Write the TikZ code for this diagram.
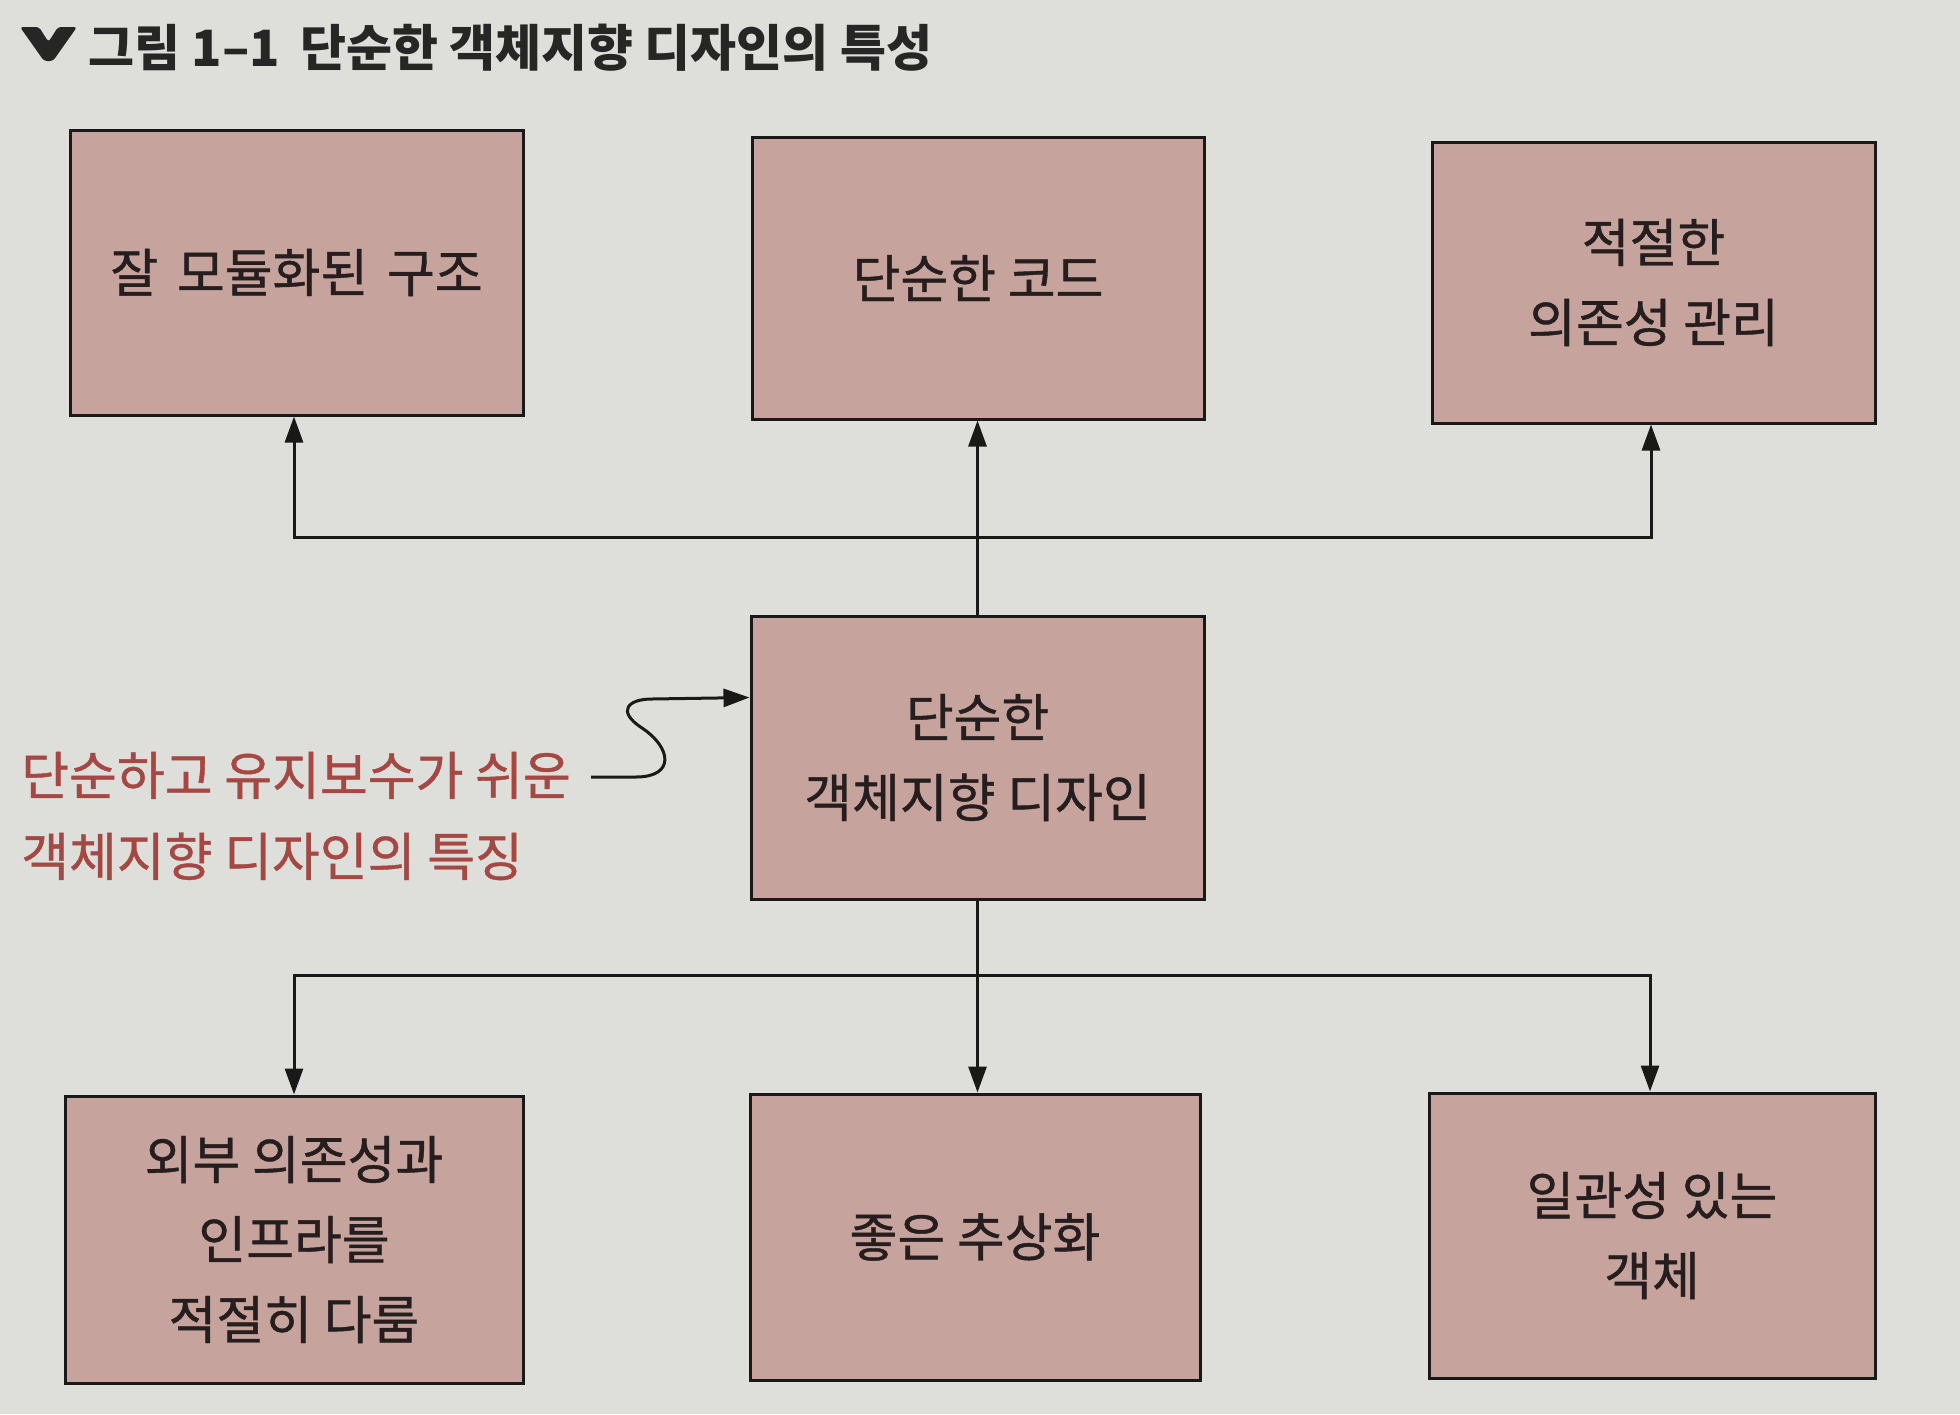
\documentclass[tikz,border=0pt]{standalone}
\usepackage{fontspec}
\setmainfont{Noto Sans CJK KR}[FakeBold=0.8]
\newfontfamily\titlefont{Noto Sans CJK KR}
\usetikzlibrary{arrows.meta,calc}
\definecolor{bgc}{RGB}{222,223,218}
\definecolor{boxc}{RGB}{198,163,157}
\definecolor{txtc}{RGB}{38,30,30}
\definecolor{redc}{RGB}{165,72,68}
\begin{document}
\begin{tikzpicture}[x=1pt,y=-1pt,
  box/.style={draw=black!90,line width=3pt,fill=boxc,text=txtc,align=center,
    inner sep=0pt,font=\fontsize{52}{80}\selectfont},
  conn/.style={line width=3pt,draw=black!90},
  arr/.style={conn,-{Triangle[length=26pt,width=18pt]}}]
\fill[bgc] (0,0) rectangle (1960,1414);
\useasboundingbox (0,0) rectangle (1960,1414);
% title
\fill[black!85,rounded corners=3pt] (20,27) -- (39,27) -- (48.5,42) -- (58,27) -- (77,27) -- (53,61) -- (44,61) -- cycle;
\node[anchor=west,text=black!85,font=\fontsize{50}{55}\titlefont\bfseries,inner sep=0pt] (title) at (88,48) {그림 1–1\hspace{20pt}단순한 객체지향 디자인의 특성};
% boxes
\node[box,minimum width=453,minimum height=285] (t1) at (296.5,272.5) {잘\hspace{0.36em}모듈화된\hspace{0.36em}구조};
\node[box,minimum width=452,minimum height=282] (t2) at (978,278) {단순한 코드};
\node[box,minimum width=443,minimum height=281] (t3) at (1653.5,282.5) {적절한\\의존성 관리};
\node[box,minimum width=453,minimum height=283] (m) at (977.5,757.5) {단순한\\객체지향 디자인};
\node[box,minimum width=458,minimum height=287] (b1) at (294,1239.5) {외부 의존성과\\인프라를\\적절히 다룸};
\node[box,minimum width=450,minimum height=286] (b2) at (975,1237) {좋은 추상화};
\node[box,minimum width=446,minimum height=285] (b3) at (1652,1235.5) {일관성 있는\\객체};
% annotation
\node[anchor=west,align=left,text=redc,inner sep=0pt,font=\fontsize{52}{81}\selectfont] (note) at (21,816) {단순하고 유지보수가 쉬운\\객체지향 디자인의 특징};
\coordinate (cs) at (591,777);
\coordinate (tip) at ([yshift=60pt]m.west);
\draw[arr] (cs) -- (636,777) .. controls (675,777) and (672,748) .. (642,728)
  .. controls (616,711) and (628,699) .. (652,699) -- (tip);
% connectors top
\coordinate (jt) at (m.north |- 0,537);
\draw[conn] (m.north) -- (jt);
\draw[arr] (jt) -- (jt |- t2.south);
\draw[arr] (jt) -| ([xshift=-2.5pt]t1.south);
\draw[arr] (jt) -| ([xshift=-2.5pt]t3.south);
% connectors bottom
\coordinate (jb) at (m.south |- 0,975);
\draw[conn] (m.south) -- (jb);
\draw[arr] (jb) -- (jb |- b2.north);
\draw[arr] (jb) -| (b1.north);
\draw[arr] (jb) -| ([xshift=-2pt]b3.north);
\end{tikzpicture}
\end{document}
